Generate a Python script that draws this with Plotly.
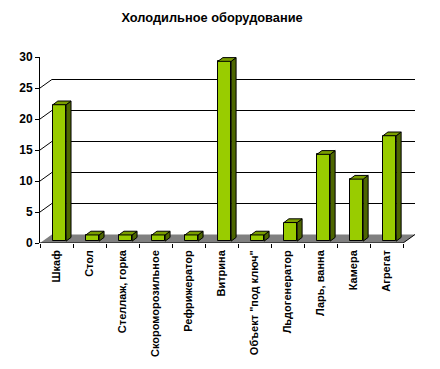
import plotly.graph_objects as go

categories = ["Шкаф", "Стол", "Стеллаж, горка", "Скороморозильное", "Рефрижератор",
              "Витрина", "Объект \"под ключ\"", "Льдогенератор", "Ларь, ванна", "Камера", "Агрегат"]
values = [22, 1, 1, 1, 1, 29, 1, 3, 14, 10, 17]
y_ticks = [0, 5, 10, 15, 20, 25, 30]
title_text = "Холодильное оборудование"

FRONT = "#99CC00"
SIDE = "#4D6600"
TOP = "#7A9E00"
FLOOR = "#808080"
FONT = "Liberation Sans, Arial, sans-serif"

n = len(categories)
wall_dx, wall_dy = 0.36, 8.5 / 6.2   # back-wall depth offset (data units)
bar_off_x, bar_base = 0.09, 0.3      # bar placement inside depth
bar_w = 0.40
sx, sy = 0.15, 0.6                   # bar depth faces

fig = go.Figure()

shapes = []
shapes.append(dict(type="path", layer="below", xref="x", yref="y",
                   path=f"M {-0.5},0 L {n-0.5},0 L {n-0.5+wall_dx},{wall_dy} L {-0.5+wall_dx},{wall_dy} Z",
                   fillcolor=FLOOR, line=dict(width=0)))
for t in y_ticks[1:-1]:
    shapes.append(dict(type="path", layer="below", xref="x", yref="y",
                       path=f"M {-0.5},{t} L {-0.5+wall_dx},{t+wall_dy} L {n-0.5+wall_dx},{t+wall_dy}",
                       line=dict(color="black", width=1)))
shapes.append(dict(type="line", layer="above", xref="x", yref="y",
                   x0=n-0.5, y0=0, x1=n-0.5+wall_dx, y1=wall_dy, line=dict(color="black", width=1)))
shapes.append(dict(type="line", layer="above", xref="x", yref="y",
                   x0=-0.5, y0=0, x1=n-0.5, y1=0, line=dict(color="black", width=1)))

xs = list(range(n))
fig.add_trace(go.Bar(x=[i + bar_off_x for i in xs], y=values, base=bar_base, width=bar_w,
                     marker=dict(color=FRONT, line=dict(color="black", width=1)),
                     hoverinfo="skip", showlegend=False))

for i, v in enumerate(values):
    x0 = i + bar_off_x - bar_w / 2
    x1 = i + bar_off_x + bar_w / 2
    yb = bar_base
    yt = v + bar_base
    fig.add_trace(go.Scatter(x=[x1, x1 + sx, x1 + sx, x1, x1], y=[yb, yb + sy, yt + sy, yt, yb],
                             fill="toself", fillcolor=SIDE, mode="lines",
                             line=dict(color="black", width=1), hoverinfo="skip", showlegend=False))
    fig.add_trace(go.Scatter(x=[x0, x1, x1 + sx, x0 + sx, x0], y=[yt, yt, yt + sy, yt + sy, yt],
                             fill="toself", fillcolor=TOP, mode="lines",
                             line=dict(color="black", width=1), hoverinfo="skip", showlegend=False))

fig.update_layout(
    template="none",
    width=440, height=369,
    margin=dict(l=40, r=25, t=57, b=126),
    paper_bgcolor="white", plot_bgcolor="white",
    shapes=shapes,
    bargap=0,
    title=dict(text=f"<b>{title_text}</b>", x=0.482, xanchor="center", y=0.953, yanchor="middle",
               font=dict(family=FONT, size=12.8, color="black")),
    xaxis=dict(range=[-0.5, n - 0.5 + wall_dx], tickmode="array", tickvals=xs, ticktext=categories,
               tickangle=-90, ticks="", showgrid=False, zeroline=False, showline=False,
               automargin=False, ticklabelstandoff=4,
               tickfont=dict(family=FONT, size=11, color="black", weight="bold"),
               minor=dict(tickmode="array", tickvals=[i - 0.5 for i in range(n + 1)], ticks="outside",
                          ticklen=4, tickcolor="black", tickwidth=1, showgrid=False),
               fixedrange=True),
    yaxis=dict(range=[0, 30], tickmode="array", tickvals=y_ticks, ticks="outside", ticklen=4,
               tickcolor="black", showline=True, linecolor="black", linewidth=1,
               showgrid=False, zeroline=False, automargin=False,
               tickfont=dict(family=FONT, size=12, color="black", weight="bold"),
               fixedrange=True),
)

fig.write_html("out.html", config={"displayModeBar": False},
               post_script="document.body.style.margin='0px';document.body.style.overflow='hidden';")
